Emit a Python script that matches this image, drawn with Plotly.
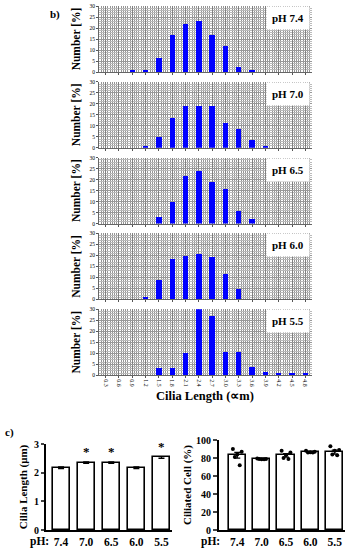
import plotly.graph_objects as go

# ---------------- data ----------------
lengths = [0.3, 0.6, 0.9, 1.2, 1.5, 1.8, 2.1, 2.4, 2.7, 3.0, 3.3, 3.6, 3.9, 4.2, 4.5, 4.8]
length_labels = ["0.3", "0.6", "0.9", "1.2", "1.5", "1.8", "2.1", "2.4", "2.7", "3.0",
                 "3.3", "3.6", "3.9", "4.2", "4.5", "4.8"]
panel_labels = ["pH 7.4", "pH 7.0", "pH 6.5", "pH 6.0", "pH 5.5"]
pct_74 = [0, 0, 0.5, 0.5, 6.2, 16.6, 22.0, 23.2, 16.6, 11.8, 2.3, 0.7, 0, 0, 0, 0]
pct_70 = [0, 0, 0, 0.7, 5.0, 13.8, 19.2, 19.2, 19.2, 11.2, 8.5, 3.6, 0.9, 0, 0, 0]
pct_65 = [0, 0, 0, 0, 3.0, 9.9, 21.8, 23.9, 19.2, 15.7, 5.9, 2.4, 0, 0, 0, 0]
pct_60 = [0, 0, 0, 0.8, 8.7, 18.3, 19.6, 20.4, 19.0, 11.3, 4.4, 0, 0, 0, 0, 0]
pct_55 = [0, 0, 0, 0, 3.0, 3.0, 9.8, 30.0, 26.8, 10.3, 10.3, 3.6, 1.3, 0.7, 0.7, 0.7]
hist_series = [pct_74, pct_70, pct_65, pct_60, pct_55]
hist_yticks = [0, 5, 10, 15, 20, 25, 30]

ph_groups = ["7.4", "7.0", "6.5", "6.0", "5.5"]
cilia_mean = [2.17, 2.35, 2.35, 2.17, 2.53]
cilia_sem = [0.03, 0.03, 0.03, 0.03, 0.03]
cilia_sig = [False, True, True, False, True]

ciliated_mean = [83, 79, 83, 86.5, 86.5]
ciliated_sem = [3.2, 0.5, 2.0, 0.5, 2.2]
ciliated_points = [
    [90, 87, 84, 81, 72],
    [79.5, 79, 78.5, 79, 78.5],
    [88, 86, 83, 80, 79],
    [88, 87, 86.5, 86, 86],
    [93, 89, 88, 84, 83],
]
dot_offsets = [-0.18, 0.18, 0.0, -0.1, 0.1]

# ---------------- layout helpers ----------------
W, H = 351, 550
SERIF = "Liberation Serif, Times New Roman, serif"

def xd(a, b):
    return [a / W, b / W]

def yd(top, bottom):
    return [1 - bottom / H, 1 - top / H]

fig = go.Figure()
layout = dict(
    width=W, height=H, margin=dict(l=0, r=0, t=0, b=0, autoexpand=False),
    paper_bgcolor="white", plot_bgcolor="white", showlegend=False,
    font=dict(family=SERIF, color="black"),
    annotations=[], bargap=0.0,
)

# ---------------- histograms (panel b) ----------------
hist_x = (99, 312)
for i, (vals, lab) in enumerate(zip(hist_series, panel_labels)):
    top = 6 + 75.8 * i
    bottom = top + 66
    n = i + 1
    xa = "x" if n == 1 else f"x{n}"
    ya = "y" if n == 1 else f"y{n}"
    fig.add_trace(go.Bar(x=lengths, y=vals, xaxis=xa, yaxis=ya, width=0.12,
                         marker=dict(color="#0000ff", line=dict(width=0))))
    xkey = "xaxis" if n == 1 else f"xaxis{n}"
    ykey = "yaxis" if n == 1 else f"yaxis{n}"
    last = (i == len(hist_series) - 1)
    layout[xkey] = dict(
        domain=xd(*hist_x), anchor=ya, range=[0.15, 4.95], type="linear",
        tickvals=lengths, ticktext=length_labels, showticklabels=last,
        tickangle=90, tickfont=dict(size=5.8, family=SERIF),
        ticks="outside", ticklen=2, tickcolor="#555",
        showline=True, linecolor="#666", linewidth=1,
        showgrid=True, gridcolor="#808080", gridwidth=1,
        minor=dict(dtick=0.05, tick0=0.0, showgrid=True, gridcolor="#959595", gridwidth=1),
        zeroline=False, fixedrange=True, automargin=False,
    )
    layout[ykey] = dict(
        domain=yd(top, bottom), anchor=xa, range=[0, 30],
        tickvals=hist_yticks, tickfont=dict(size=5.5, family=SERIF),
        ticks="outside", ticklen=2, tickcolor="#555",
        showline=True, linecolor="#666", linewidth=1,
        showgrid=True, gridcolor="#999999", gridwidth=1,
        minor=dict(dtick=1, showgrid=True, gridcolor="#bbbbbb", gridwidth=1),
        zeroline=False, fixedrange=True, automargin=False,
        title=dict(text="<b>Number [%]</b>", font=dict(size=11.5, family=SERIF), standoff=6),
    )
    layout["annotations"].append(dict(
        xref="paper", yref="paper", x=288 / W, y=1 - (top + 12) / H,
        text=f"<b>{lab}</b>", showarrow=False, font=dict(size=11, family=SERIF),
        bgcolor="white", borderpad=5, xanchor="center", yanchor="middle",
    ))

layout["annotations"].append(dict(
    xref="paper", yref="paper", x=205 / W, y=1 - 396 / H,
    text="<b>Cilia Length (∝m)</b>", showarrow=False,
    font=dict(size=12.5, family=SERIF), xanchor="center", yanchor="middle"))
layout["annotations"].append(dict(
    xref="paper", yref="paper", x=55 / W, y=1 - 14 / H, text="<b>b)</b>",
    showarrow=False, font=dict(size=11, family=SERIF), xanchor="center", yanchor="middle"))

# ---------------- panel c, left: cilia length ----------------
idx = list(range(len(ph_groups)))
fig.add_trace(go.Bar(x=idx, y=cilia_mean, xaxis="x6", yaxis="y6", width=0.68,
                     marker=dict(color="white", line=dict(color="black", width=1.6)),
                     error_y=dict(type="data", array=cilia_sem, color="black",
                                  thickness=1.2, width=3)))
layout["xaxis6"] = dict(
    domain=xd(46, 172), anchor="y6", range=[-0.6, 4.42],
    tickvals=idx, ticktext=[f"<b>{g}</b>" for g in ph_groups],
    tickfont=dict(size=11.5, family=SERIF), ticks="", showline=True,
    linecolor="black", linewidth=2, showgrid=False, zeroline=False, fixedrange=True,
    automargin=False)
layout["yaxis6"] = dict(
    domain=yd(444, 530), anchor="x6", range=[0, 3], tickvals=[0, 1, 2, 3],
    ticktext=["<b>0</b>", "<b>1</b>", "<b>2</b>", "<b>3</b>"],
    tickfont=dict(size=10, family=SERIF), ticks="outside", ticklen=3, tickwidth=1.5,
    showline=True, linecolor="black", linewidth=2, showgrid=False, zeroline=False,
    fixedrange=True, automargin=False,
    title=dict(text="<b>Cilia Length (μm)</b>", font=dict(size=11, family=SERIF), standoff=4))
for i, sig in enumerate(cilia_sig):
    if sig:
        layout["annotations"].append(dict(
            xref="x6", yref="y6", x=i, y=cilia_mean[i] + cilia_sem[i],
            text="<b>*</b>", showarrow=False, yshift=10,
            font=dict(size=13, family=SERIF), xanchor="center", yanchor="middle"))
layout["annotations"].append(dict(
    xref="paper", yref="paper", x=39 / W, y=1 - 541 / H, text="<b>pH:</b>",
    showarrow=False, font=dict(size=11.5, family=SERIF), xanchor="center", yanchor="middle"))
layout["annotations"].append(dict(
    xref="paper", yref="paper", x=9 / W, y=1 - 432 / H, text="<b>c)</b>",
    showarrow=False, font=dict(size=11, family=SERIF), xanchor="center", yanchor="middle"))

# ---------------- panel c, right: ciliated cells ----------------
fig.add_trace(go.Bar(x=idx, y=ciliated_mean, xaxis="x7", yaxis="y7", width=0.7,
                     marker=dict(color="white", line=dict(color="black", width=1.6)),
                     error_y=dict(type="data", array=ciliated_sem, color="black",
                                  thickness=1.2, width=3)))
px, py = [], []
for i, pts in enumerate(ciliated_points):
    for j, v in enumerate(pts):
        px.append(i + dot_offsets[j])
        py.append(v)
fig.add_trace(go.Scatter(x=px, y=py, xaxis="x7", yaxis="y7", mode="markers",
                         marker=dict(color="black", size=4)))
layout["xaxis7"] = dict(
    domain=xd(219, 345), anchor="y7", range=[-0.75, 4.42],
    tickvals=idx, ticktext=[f"<b>{g}</b>" for g in ph_groups],
    tickfont=dict(size=11.5, family=SERIF), ticks="", showline=True,
    linecolor="black", linewidth=2, showgrid=False, zeroline=False, fixedrange=True,
    automargin=False)
layout["yaxis7"] = dict(
    domain=yd(440, 530), anchor="x7", range=[0, 100], tickvals=[0, 20, 40, 60, 80, 100],
    ticktext=[f"<b>{v}</b>" for v in [0, 20, 40, 60, 80, 100]],
    tickfont=dict(size=10, family=SERIF), ticks="outside", ticklen=4, tickwidth=1.5,
    showline=True, linecolor="black", linewidth=2, showgrid=False, zeroline=False,
    fixedrange=True, automargin=False,
    title=dict(text="<b>Ciliated Cell (%)</b>", font=dict(size=11, family=SERIF), standoff=2))
layout["annotations"].append(dict(
    xref="paper", yref="paper", x=210 / W, y=1 - 541 / H, text="<b>pH:</b>",
    showarrow=False, font=dict(size=11.5, family=SERIF), xanchor="center", yanchor="middle"))

fig.update_layout(**layout)
fig.write_html("out.html", config={"displayModeBar": False},
               post_script="document.body.style.margin='0';document.body.style.overflow='hidden';")
